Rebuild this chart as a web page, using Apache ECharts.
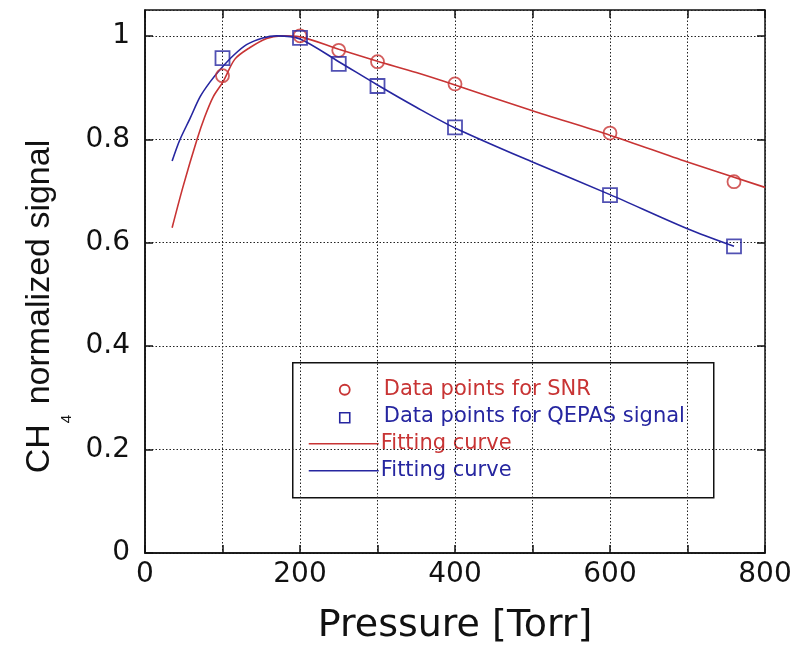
<!DOCTYPE html>
<html>
<head>
<meta charset="utf-8">
<script src="https://cdn.jsdelivr.net/npm/echarts@6/dist/echarts.min.js"></script>
<style>
  html, body { margin: 0; padding: 0; background: #fff; }
  #chart { width: 798px; height: 654px; }
</style>
</head>
<body>
<div id="chart"></div>
<script>
// Measured pressures (Torr)
const pressures = [100, 200, 250, 300, 400, 600, 760];
// Normalized SNR and QEPAS signal at those pressures
const snrValues = [0.923, 1.0, 0.972, 0.950, 0.907, 0.812, 0.718];
const qepasValues = [0.957, 0.996, 0.946, 0.903, 0.823, 0.692, 0.593];

// Fitted curves: pressure samples and fitted values
const snrFitP = [35, 49, 67, 77, 88, 101, 116, 135, 157, 175, 200, 250, 300, 350, 400, 500, 600, 700, 800];
const snrFitV = [0.629, 0.708, 0.799, 0.843, 0.882, 0.912, 0.955, 0.977, 0.995, 1.0, 0.998, 0.974, 0.951, 0.929, 0.905, 0.855, 0.808, 0.756, 0.707];
const qepasFitP = [35, 45, 58, 71, 84, 97, 114, 131, 152, 170, 200, 250, 300, 350, 400, 500, 600, 700, 760];
const qepasFitV = [0.758, 0.799, 0.840, 0.882, 0.911, 0.935, 0.962, 0.983, 0.996, 1.0, 0.994, 0.950, 0.905, 0.862, 0.822, 0.756, 0.693, 0.627, 0.593];

// Axis ticks
const xTicks = [0, 200, 400, 600, 800];
const yTicks = [0, 0.2, 0.4, 0.6, 0.8, 1];

const RED = '#c83434';
const BLUE = '#2626a0';
const WIDE = '"DejaVu Sans", sans-serif';
const ARIAL = '"Liberation Sans", Arial, sans-serif';

const pair = (xs, ys) => xs.map((x, i) => [x, ys[i]]);

const chart = echarts.init(document.getElementById('chart'), null, { renderer: 'canvas' });

const gridLine = { show: true, lineStyle: { color: '#222', type: [1.5, 2], width: 1 } };
const inTick = { show: true, inside: true, length: 8, lineStyle: { color: '#111', width: 1.5 } };
const hiddenLine = { show: false, onZero: false };

chart.setOption({
  backgroundColor: '#fff',
  animation: false,
  grid: { left: 145, right: 33, top: 10, bottom: 101, show: true, borderColor: '#111', borderWidth: 1.5 },
  xAxis: [{
    type: 'value', min: 0, max: 800, interval: 100,
    name: 'Pressure [Torr]', nameLocation: 'middle', nameGap: 54,
    nameTextStyle: { fontFamily: WIDE, fontSize: 38, color: '#111' },
    axisLine: { show: true, onZero: false, lineStyle: { color: '#111', width: 1.5 } },
    axisTick: inTick,
    splitLine: gridLine,
    axisLabel: {
      margin: 8, fontFamily: WIDE, fontSize: 28, color: '#111',
      formatter: v => (xTicks.indexOf(v) >= 0 ? String(v) : '')
    }
  }, {
    type: 'value', min: 0, max: 800, interval: 100, position: 'top',
    axisLine: hiddenLine, axisTick: inTick, axisLabel: { show: false }, splitLine: { show: false }
  }],
  yAxis: [{
    type: 'value', min: 0, max: 1.05, interval: 0.2,
    name: '{a|CH}{s|4}{e| normalized signal}', nameLocation: 'middle', nameGap: 77, nameRotate: 90,
    nameTextStyle: {
      rich: {
        a: { fontFamily: ARIAL, fontSize: 34, lineHeight: 41, verticalAlign: 'top', color: '#111' },
        s: { fontFamily: ARIAL, fontSize: 15, lineHeight: 15, verticalAlign: 'top', color: '#111', padding: [37, 1, 0, 1] },
        e: { fontFamily: ARIAL, fontSize: 34, lineHeight: 41, verticalAlign: 'top', color: '#111', padding: [0, 50, 0, 0] }
      }
    },
    axisLine: { show: true, onZero: false, lineStyle: { color: '#111', width: 1.5 } },
    axisTick: inTick,
    splitLine: gridLine,
    axisLabel: {
      margin: 15, fontFamily: WIDE, fontSize: 28, color: '#111', showMaxLabel: false,
      formatter: v => {
        const t = yTicks.find(k => Math.abs(k - v) < 1e-6);
        return t === undefined ? '' : String(t);
      }
    }
  }, {
    type: 'value', min: 0, max: 1.05, interval: 0.2, position: 'right',
    axisLine: hiddenLine, axisTick: inTick, axisLabel: { show: false }, splitLine: { show: false }
  }],
  series: [
    {
      name: 'SNR fit', type: 'line', smooth: 0.3, showSymbol: false,
      data: pair(snrFitP, snrFitV), lineStyle: { color: RED, width: 1.6 }, z: 2
    },
    {
      name: 'QEPAS fit', type: 'line', smooth: 0.3, showSymbol: false,
      data: pair(qepasFitP, qepasFitV), lineStyle: { color: BLUE, width: 1.6 }, z: 2
    },
    {
      name: 'Data points for SNR', type: 'scatter', symbol: 'circle', symbolSize: 13,
      data: pair(pressures, snrValues),
      itemStyle: { color: 'rgba(255,255,255,0)', borderColor: RED, borderWidth: 1.8 }, z: 3
    },
    {
      name: 'Data points for QEPAS signal', type: 'scatter', symbol: 'rect', symbolSize: 14,
      data: pair(pressures, qepasValues),
      itemStyle: { color: 'rgba(255,255,255,0)', borderColor: BLUE, borderWidth: 1.8 }, z: 3
    }
  ],
  graphic: [{
    type: 'group', left: 292, top: 362, z: 10,
    children: [
      { type: 'rect', shape: { x: 0, y: 0, width: 421, height: 135 },
        style: { fill: '#fff', stroke: '#111', lineWidth: 1.5 } },
      { type: 'circle', shape: { cx: 52, cy: 27, r: 5 }, style: { fill: 'none', stroke: RED, lineWidth: 1.8 } },
      { type: 'rect', shape: { x: 47, y: 50, width: 10, height: 10 }, style: { fill: 'none', stroke: BLUE, lineWidth: 1.6 } },
      { type: 'line', shape: { x1: 16, y1: 81, x2: 86, y2: 81 }, style: { stroke: RED, lineWidth: 1.6 } },
      { type: 'line', shape: { x1: 16, y1: 108, x2: 86, y2: 108 }, style: { stroke: BLUE, lineWidth: 1.6 } },
      { type: 'text', x: 91, y: 27, style: { text: 'Data points for SNR', fill: RED, font: '21px ' + WIDE, verticalAlign: 'middle' } },
      { type: 'text', x: 91, y: 54, style: { text: 'Data points for QEPAS signal', fill: BLUE, font: '21px ' + WIDE, verticalAlign: 'middle' } },
      { type: 'text', x: 88, y: 81, style: { text: 'Fitting curve', fill: RED, font: '21px ' + WIDE, verticalAlign: 'middle' } },
      { type: 'text', x: 88, y: 108, style: { text: 'Fitting curve', fill: BLUE, font: '21px ' + WIDE, verticalAlign: 'middle' } }
    ]
  }]
});
</script>
</body>
</html>
